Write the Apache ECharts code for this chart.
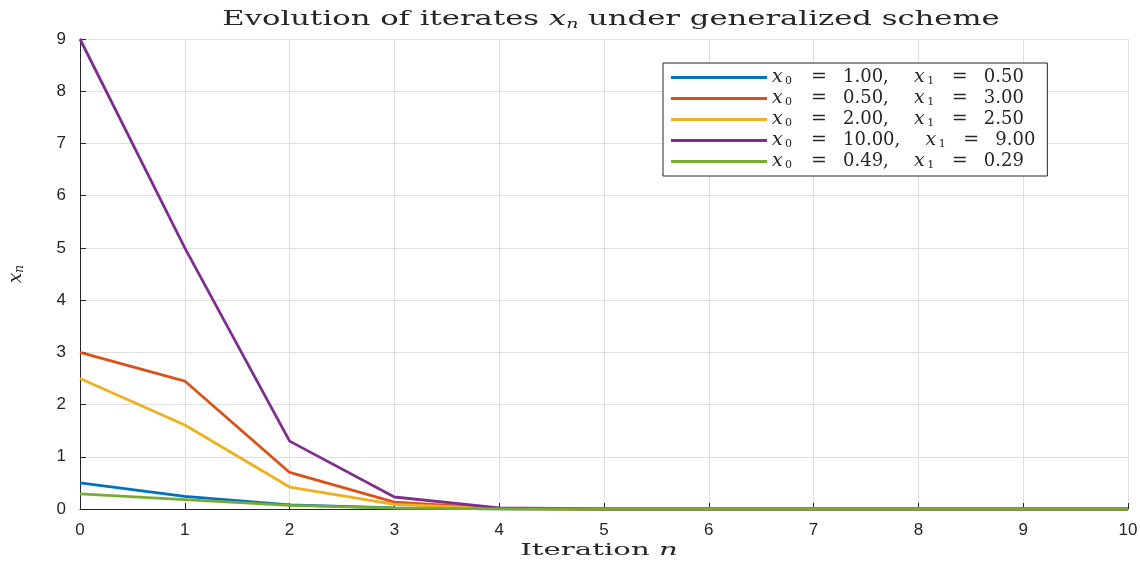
<!DOCTYPE html>
<html>
<head>
<meta charset="utf-8">
<script src="https://cdn.jsdelivr.net/npm/echarts@6/dist/echarts.min.js"></script>
<style>
html,body{margin:0;padding:0;background:#fff;}
#c{width:1140px;height:563px;}
</style>
</head>
<body>
<div id="c"></div>
<script>
const iterations = [0,1,2,3,4,5,6,7,8,9,10];
const x0Values = ['1.00','0.50','2.00','10.00','0.49'];
const x1Values = ['0.50','3.00','2.50','9.00','0.29'];
const seriesBlue   = [0.50, 0.24, 0.08, 0.02, 0.004, 0, 0, 0, 0, 0, 0];
const seriesOrange = [3.00, 2.45, 0.70, 0.13, 0.01, 0, 0, 0, 0, 0, 0];
const seriesYellow = [2.50, 1.61, 0.42, 0.09, 0.008, 0, 0, 0, 0, 0, 0];
const seriesPurple = [9.00, 5.00, 1.30, 0.23, 0.02, 0, 0, 0, 0, 0, 0];
const seriesGreen  = [0.29, 0.18, 0.07, 0.015, 0.002, 0, 0, 0, 0, 0, 0];
const allSeries = [seriesBlue, seriesOrange, seriesYellow, seriesPurple, seriesGreen];
const colors = ['#0072BD','#D95319','#EDB120','#7E2F8E','#77AC30'];
const yTicks = [0,1,2,3,4,5,6,7,8,9];
const titleText = 'Evolution of iterates {i|x}{s|n} under generalized scheme';
const xAxisTitle = 'Iteration {i|n}';

const serif = '"DejaVu Serif", "Liberation Serif", serif';
const sans = '"Liberation Sans", Arial, sans-serif';
const ink = '#262626';
const names = x0Values.map((a, i) => 'x0 = ' + a + ', x1 = ' + x1Values[i]);

const chart = echarts.init(document.getElementById('c'));
chart.setOption({
  animation: false,
  backgroundColor: '#fff',
  graphic: [
    {
      type: 'text', x: 611, y: 20, scaleX: 1.46,
      style: {
        text: titleText, fontFamily: serif, fontSize: 21, fill: ink,
        align: 'center', verticalAlign: 'middle',
        rich: {
          i: {fontFamily: serif, fontStyle: 'italic', fontSize: 21, fill: ink},
          s: {fontFamily: serif, fontStyle: 'italic', fontSize: 13, fill: ink, padding: [9,0,0,0]}
        }
      }
    },
    {
      type: 'text', x: 599, y: 551, scaleX: 1.72,
      style: {
        text: xAxisTitle, fontFamily: serif, fontSize: 17, fill: ink,
        align: 'center', verticalAlign: 'middle',
        rich: {i: {fontFamily: serif, fontStyle: 'italic', fontSize: 17, fill: ink}}
      }
    }
  ],
  grid: {left: 80, right: 12, top: 39, bottom: 54, outerBoundsMode: 'none'},
  legend: {
    orient: 'vertical', left: 663, top: 63,
    padding: [5, 12, 5, 8],
    backgroundColor: '#fff', borderColor: ink, borderWidth: 1,
    icon: 'rect', itemWidth: 96, itemHeight: 3, itemGap: 2,
    data: names,
    formatter: function (name) {
      const i = names.indexOf(name);
      return '{i|x}{s|0}{eq|=}{v|' + x0Values[i] + ',}{gap|}{i|x}{s|1}{eq|=}{v|' + x1Values[i] + '}';
    },
    textStyle: {
      fontFamily: serif, fontSize: 18, color: ink, lineHeight: 17,
      rich: {
        v: {fontFamily: serif, fontSize: 18, color: ink, lineHeight: 17},
        i: {fontFamily: serif, fontStyle: 'italic', fontSize: 19, color: ink, lineHeight: 17, width: 13},
        s: {fontFamily: serif, fontSize: 11, color: ink, padding: [7,0,0,0], lineHeight: 10, width: 10},
        eq: {fontFamily: serif, fontSize: 19, color: ink, width: 48, align: 'center', lineHeight: 17},
        gap: {width: 24, lineHeight: 17}
      }
    }
  },
  xAxis: {
    type: 'value', min: 0, max: 10, interval: 1,
    axisLine: {show: true, onZero: false, lineStyle: {color: ink, width: 1}},
    axisTick: {show: true, inside: true, length: 6, lineStyle: {color: ink}},
    axisLabel: {fontFamily: sans, fontSize: 17, color: ink, margin: 13},
    splitLine: {show: true, lineStyle: {color: '#dfdfdf', width: 1}}
  },
  yAxis: {
    type: 'value', min: 0, max: 9, interval: 1,
    name: '{i|x}{s|n}', nameLocation: 'middle', nameGap: 54, nameRotate: 90,
    nameTextStyle: {
      fontFamily: serif, fontSize: 18, color: ink,
      rich: {
        i: {fontFamily: serif, fontStyle: 'italic', fontSize: 18, color: ink},
        s: {fontFamily: serif, fontStyle: 'italic', fontSize: 12, color: ink, padding: [8,0,0,0]}
      }
    },
    axisLine: {show: true, onZero: false, lineStyle: {color: ink, width: 1}},
    axisTick: {show: true, inside: true, length: 6, lineStyle: {color: ink}},
    axisLabel: {fontFamily: sans, fontSize: 17, color: ink, margin: 14,
      formatter: function (v) { return yTicks.indexOf(v) >= 0 ? String(v) : ''; }},
    splitLine: {show: true, lineStyle: {color: '#dfdfdf', width: 1}}
  },
  series: allSeries.map((vals, k) => ({
    name: names[k], type: 'line', symbol: 'none', showSymbol: false,
    data: iterations.map((n, j) => [n, vals[j]]),
    lineStyle: {color: colors[k], width: 2.8},
    itemStyle: {color: colors[k]},
    clip: false
  }))
});
</script>
</body>
</html>
